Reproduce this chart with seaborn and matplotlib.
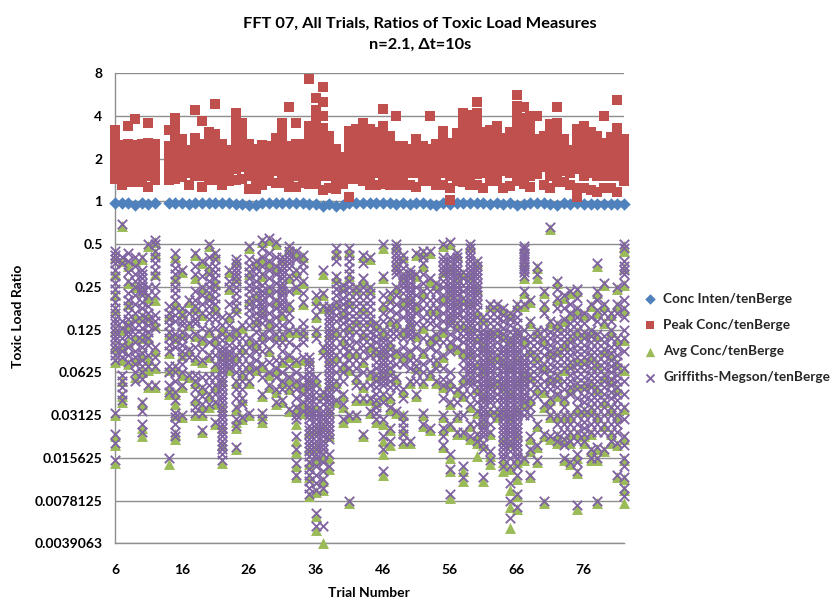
import matplotlib
matplotlib.use("Agg")
import matplotlib.pyplot as plt
import pandas as pd
import seaborn as sns

trials = [6, 7, 8, 9, 10, 11, 12] + list(range(14, 83))
tick_values = [6, 16, 26, 36, 46, 56, 66, 76]
y_ticks = [8, 4, 2, 1, 0.5, 0.25, 0.125, 0.0625, 0.03125, 0.015625, 0.0078125, 0.0039063]
y_labels = ["8", "4", "2", "1", "0.5", "0.25", "0.125", "0.0625", "0.03125", "0.015625", "0.0078125", "0.0039063"]

conc_inten = [.97,.97,.97,.95,.97,.96,.97,.97,.97,.97,.96,.97,.97,.97,.97,.97,.97,.96,.96,.94,.94,.97,.97,.97,.97,.97,.97,.97,.96,.96,.93,.96,.93,.95,.97,.97,.97,
              .97,.97,.97,.97,.96,.97,.96,.97,.97,.96,.94,.97,.96,.97,.97,.97,.97,.97,.96,.97,.96,.97,.94,.96,.97,.97,.97,.96,.95,.97,.96,.97,.96,.96,.96,.96,.96,.96,.96]

peak_conc = [
 [3.2,2.8,2.5,2.2,1.95,1.72,1.55,1.44],[2.48,2.2,1.95,1.72,1.5,1.3],[3.4,2.55,2.25,2.0,1.75,1.55,1.38],[3.8,2.5,2.2,1.95,1.72,1.55,1.38],
 [2.55,2.25,2.0,1.75,1.55,1.38],[3.56,2.6,2.3,2.0,1.75,1.5,1.26],[2.55,2.25,2.0,1.8,1.6,1.42],
 [3.2,2.45,2.2,1.95,1.72,1.55,1.42],[3.9,3.5,3.1,2.75,2.4,2.1,1.85,1.62,1.45],[2.77,2.45,2.2,1.95,1.72,1.48],[2.3,2.05,1.8,1.6,1.3],
 [4.4,2.8,2.5,2.2,1.95,1.7,1.5],[3.67,2.55,2.25,2.0,1.75,1.5,1.27],[3.1,2.75,2.45,2.15,1.9,1.65,1.42],[4.9,3.0,2.65,2.35,2.05,1.8,1.58,1.42],
 [2.55,2.25,2.0,1.75,1.5,1.3],[2.3,2.05,1.8,1.6,1.4],[4.2,3.6,3.2,2.8,2.5,2.2,1.95,1.7,1.42],[3.6,3.05,2.6,2.3,2.0,1.75,1.45],[2.55,2.25,2.0,1.75,1.5,1.22],
 [2.35,2.1,1.85,1.65,1.45,1.22],[2.5,2.25,2.0,1.75,1.5,1.3],[2.45,2.2,1.95,1.72,1.5,1.4],[2.8,2.45,2.15,1.9,1.65,1.36],[3.55,3.1,2.7,2.35,2.05,1.8,1.55,1.35],
 [4.6,2.45,2.15,1.9,1.65,1.45,1.27],[3.56,2.55,2.25,2.0,1.75,1.5,1.27],[2.55,2.25,2.0,1.75,1.5,1.35],[7.3,3.4,3.0,2.65,2.3,2.0,1.75,1.5,1.33],
 [5.4,4.4,3.8,3.3,2.9,2.55,2.25,2.0,1.75,1.5,1.32],[6.4,5.0,4.0,3.3,2.9,2.55,2.25,2.0,1.75,1.5,1.2],[2.9,2.55,2.25,2.0,1.75,1.5,1.25],[2.35,2.1,1.85,1.6,1.4,1.22],[2.05,1.85,1.65,1.48,1.33],
 [3.15,2.75,2.4,2.1,1.85,1.6,1.08,1.44],[3.25,2.85,2.5,2.2,1.95,1.7,1.44],[3.6,3.1,2.7,2.35,2.05,1.8,1.55,1.4],[3.25,2.8,2.45,2.15,1.9,1.65,1.45,1.3],
 [3.1,2.75,2.4,2.1,1.85,1.6,1.3],[4.5,3.4,2.95,2.6,2.25,2.0,1.75,1.5,1.33],[2.9,2.55,2.25,2.0,1.75,1.5,1.3],[4.0,2.45,2.15,1.9,1.65,1.45,1.3],
 [2.45,2.15,1.9,1.65,1.45,1.3],[2.35,2.1,1.85,1.6,1.3],[2.75,2.4,2.1,1.85,1.6,1.26],[2.45,2.15,1.9,1.65,1.4],[4.0,2.35,2.1,1.85,1.6,1.4],
 [2.55,2.25,2.0,1.75,1.5,1.3],[3.15,2.75,2.4,2.1,1.85,1.6,1.3],[2.6,2.25,2.0,1.75,1.5,1.03,1.24],[3.05,2.7,2.35,2.05,1.8,1.55,1.4],[4.2,3.6,3.1,2.7,2.35,2.05,1.8,1.55,1.38],
 [4.1,3.5,3.0,2.65,2.3,2.0,1.75,1.5,1.3],[5.0,4.2,3.6,3.1,2.7,2.35,2.05,1.8,1.55,1.3],[3.1,2.75,2.4,2.1,1.85,1.6,1.25],[3.2,2.8,2.45,2.15,1.9,1.65,1.4],
 [3.4,2.95,2.6,2.25,2.0,1.75,1.5,1.4],[2.8,2.45,2.15,1.9,1.65,1.24],[3.1,2.75,2.4,2.1,1.85,1.6,1.28],[5.6,4.7,4.0,3.4,2.95,2.6,2.25,2.0,1.75,1.5,1.4],
 [4.6,3.9,3.4,2.95,2.6,2.25,2.0,1.75,1.5,1.33],[4.0,3.4,2.95,2.6,2.25,2.0,1.75,1.5,1.26],[4.0,2.75,2.4,2.1,1.85,1.6,1.55],[2.9,2.55,2.25,2.0,1.75,1.3],
 [3.5,3.05,2.65,2.3,2.0,1.75,1.5,1.24],[4.6,3.6,3.1,2.7,2.35,2.05,1.8,1.55,1.38],[2.77,2.45,2.15,1.9,1.65,1.38],[2.3,2.05,1.8,1.6,1.3],[3.25,2.85,2.5,2.2,1.95,1.7,1.08,1.25],
 [3.4,2.95,2.6,2.25,2.0,1.75,1.5,1.24],[3.1,2.75,2.4,2.1,1.85,1.6,1.2],[2.9,2.55,2.25,2.0,1.75,1.5,1.17],[4.0,2.6,2.3,2.0,1.75,1.5,1.24],[2.85,2.5,2.2,1.95,1.7,1.5,1.24],
 [5.2,3.3,2.9,2.55,2.25,2.0,1.75,1.5,1.17],[2.77,2.45,2.15,1.9,1.65,1.4],
]

griffiths = [
 [1.15,1.25,1.35,1.45,1.6,1.75,1.9,2.05,2.2,2.35,2.5,2.62,2.75,2.85,2.95,3.05,3.15,3.25,3.35,3.45,3.6,3.7,4.95,5.45,5.65,6.05],
 [.52,1.3,1.45,2.8,2.95,3.2,3.35,3.5,3.65,4.05,4.2,4.35,4.5,4.65],
 [1.2,1.4,1.65,1.85,2.15,2.3,2.45,2.6,2.75,2.9,3.05,3.15,3.4,3.6,3.75],
 [1.3,1.5,1.7,1.85,2,2.2,2.4,2.6,2.8,2.95,3.1,3.3,3.5,3.65,3.8,4,4.2],
 [1.3,1.6,1.7,1.8,1.9,2,2.1,2.2,2.35,2.5,2.65,2.8,2.95,3.1,3.25,3.4,3.55,3.7,3.85,4,4.15,4.7,4.9,5.2,5.4],
 [1,2,2.2,2.45,2.6,2.75,2.9,3.05,3.2,3.35,3.6,3.85,4.3],
 [.9,1,1.15,1.3,1.45,1.6,1.75,2,2.2,2.65,2.8,2.95,3.4,3.65,3.85,4.3],
 [2.45,2.6,2.75,2.9,3.05,3.2,3.35,3.5,3.85,4,4.3,4.45,6],
 [1.2,1.4,1.55,1.7,1.85,2,2.15,2.3,2.5,2.65,2.8,3.1,3.25,3.4,3.85,4,4.2,4.45,4.65,4.95,5.05,5.2,5.4,5.5],
 [1.6,2.5,2.65,2.8,2.9,3.05,3.2,3.35,3.5,3.65,3.8,4,4.3,5],
 [2.3,2.6,2.85,3.15,3.45,3.65,4.05],
 [1.2,1.5,1.7,2.1,2.3,2.45,2.6,2.75,2.85,3.1,3.4,3.65,4.05,4.2,4.4,4.6,4.8,4.95],
 [1.4,1.75,2,2.2,2.4,2.6,2.95,3.2,3.45,3.7,4.1,4.35,4.55,4.75,4.95,5.35],
 [1,1.3,1.5,1.7,1.85,2,2.15,2.3,2.45,2.6,2.75,3,3.3,3.6,4.1,4.3,4.5,4.75],
 [1.2,1.35,1.5,1.65,1.8,1.95,2.1,2.25,2.4,2.6,2.75,2.95,3.2,3.4,3.6,3.8,4.1,4.3,4.5,4.7,5.15],
 [2.7,2.9,3.1,3.25,3.4,3.5,3.6,3.7,3.8,3.9,4,4.1,4.2,4.3,4.4,4.5,4.6,4.7,4.8,4.9,5,5.1,5.2,5.3,5.4,5.5,5.6,5.7,5.8,5.9,6.05],
 [1.6,1.85,2,2.4,2.65,2.9,3.1,3.35,3.5,3.6,3.7,3.8,3.9],
 [1.35,1.45,1.55,1.65,1.75,1.85,2,2.15,2.3,2.45,2.6,3,3.2,3.4,3.6,3.8,4,4.2,4.4,4.6,4.8,5.1,5.25,5.75],
 [2.9,3.2,3.4,3.6,3.8,4,4.2,4.4,4.6,4.75,5.05],
 [1.05,1.35,1.5,1.65,1.8,1.95,2.1,2.25,2.4,2.55,2.7,2.9,3.2,3.4,3.6,3.8,4,4.2,4.95],
 [1.4,1.55,1.7,1.85,2,2.15,2.3,2.45,2.6,2.75,2.9,3.05,3.3,3.5,3.7,3.9],
 [.9,1.1,1.3,1.5,1.7,1.95,2.1,2.2,2.3,2.4,2.5,2.6,2.7,2.85,3.1,3.3,3.5,3.8,4.1,4.5,4.95,5.1],
 [.85,1.2,1.4,1.6,1.8,2,2.2,2.4,2.6,2.8,3,3.2,3.45,3.75,4,4.3],
 [.95,1.3,1.5,1.7,1.9,2.1,2.3,2.5,2.7,2.9,3.1,3.3,3.7,3.9,4.1,4.4,4.7],
 [1.3,1.4,1.5,1.6,1.7,1.8,1.9,2,2.1,2.2,2.3,2.4,2.5,2.6,2.9,3.1,3.3,3.5,3.7,4,4.2,4.4,4.65],
 [1.05,1.15,1.25,1.35,1.45,1.55,1.75,2.1,2.4,2.6,2.8,3,3.3,3.6,3.85,4.1,4.35,4.85],
 [1.15,1.35,1.6,1.8,2,3,3.4,3.7,4,4.2,4.4,4.6,4.8,5,5.1,5.5,5.8,6.13,6.4],
 [1.25,1.45,1.6,1.85,2.15,2.35,2.85,3,3.15,3.3,3.65,4.1,4.3,4.5,4.7,4.9],
 [3.65,3.75,3.85,4,4.1,4.2,4.3,4.4,4.5,4.6,4.7,4.8,4.9,5,5.1,5.25,5.35,5.45,5.55,5.65,5.75,5.85,5.95,6.1,6.25,6.4,6.55,6.7,6.85],
 [2.2,2.45,2.65,3,3.2,4.1,4.3,4.45,4.6,4.75,4.9,5,5.1,5.2,5.3,5.4,5.5,5.6,5.7,5.8,5.9,6,6.2,6.4,6.6,6.75,7.3,7.6],
 [1.6,2.15,2.45,3.4,3.6,4.45,4.6,4.75,4.9,5,5.1,5.2,5.3,5.4,5.5,5.6,5.7,5.8,5.9,6.1,6.3,6.5,6.7,7.6],
 [2.45,2.55,2.65,2.75,2.85,2.95,3.05,3.15,3.25,3.35,3.45,3.55,3.65,3.75,3.85,3.95,4.05,4.15,4.25,4.35,4.45,4.55,4.65,4.75,4.85,4.95,5.05,5.15,5.25,5.35,5.45,5.55,5.9,6.2],
 [1.1,1.25,1.4,1.75,1.9,2.05,2.2,2.35,2.5,2.65,2.8,3,3.2,3.4,3.6,3.8,4,4.2,4.4,4.65],
 [1.95,2.1,2.25,2.4,2.55,2.7,2.85,3,3.2,3.4,3.6,3.8,4,4.2,4.5,4.75,5.1],
 [1.1,1.25,1.4,1.55,1.7,1.85,2,2.15,2.3,2.45,2.6,2.75,2.9,3.05,3.2,3.35,3.5,3.7,3.9,5,7],
 [2,2.15,2.3,2.45,2.6,2.75,2.9,3.05,3.3,3.5,3.7,3.9,4.1,4.3,4.6,5],
 [1.25,1.45,1.8,2,2.15,2.3,2.45,2.6,2.75,2.9,3.05,3.2,3.35,3.5,3.7,4,4.3,4.6,5.45],
 [1.3,2,2.15,2.3,2.45,2.6,2.75,2.9,3.05,3.2,3.35,3.6,4,4.3,4.6,4.9],
 [2.85,3,3.15,3.3,3.45,3.6,3.75,3.9,4.05,4.2,4.35,4.5,4.65,4.8,4.95,5.1],
 [1,1.75,2.2,2.4,2.6,2.8,3,3.2,3.3,3.4,3.5,3.6,3.7,3.8,3.9,4,4.1,4.2,4.3,4.5,4.7,5.1,5.5,5.8,6.3],
 [2.15,2.35,2.55,2.75,3,3.15,3.3,3.45,3.6,3.75,3.9,4.05,4.2,4.35,4.55,4.8,5.3,5.6],
 [1,1.1,1.2,1.3,1.4,1.5,1.6,1.7,2,2.2,2.4,2.6,2.8,3,3.15,3.5,3.8,4.1,4.35,4.9],
 [1.25,1.4,1.55,1.7,1.8,1.9,2,2.15,2.3,2.5,2.7,3,3.2,3.4,3.6,3.8,4.4,4.6,5,5.15,5.3,5.45,5.6],
 [1.6,1.7,1.8,1.9,2,2.1,2.2,2.3,2.4,2.5,2.6,2.7,2.8,2.9,3,3.1,3.2,3.5,3.7,3.9,4.2,5.6],
 [1.2,1.7,2,2.2,2.4,2.6,2.85,3.1,3.4,3.7,3.85,4,4.2,4.5],
 [1.15,1.3,1.45,1.7,1.9,2.1,2.3,2.5,2.7,2.9,3.2,3.5,3.8,4,4.2,4.95,5.2],
 [1.15,1.8,2.1,2.3,2.5,2.7,2.85,3.2,3.4,3.7,4,5.3],
 [1.9,2.1,2.3,2.5,2.7,2.9,3.1,3.3,3.5,3.7,3.9,4.2],
 [1,1.3,1.4,1.5,1.6,1.7,1.85,2,2.2,2.4,2.6,2.8,3,3.3,3.6,3.9,4.15,4.3,4.6,5,5.3,5.5,5.7],
 [.95,1.3,1.4,1.5,1.6,1.7,1.8,1.9,2,2.1,2.2,2.3,2.4,2.5,2.6,2.7,2.8,2.9,3.1,3.3,3.5,4,4.2,4.4,4.7,5.2,5.9,6.25,6.85],
 [1.2,1.3,1.4,1.5,1.6,1.7,1.8,1.9,2,2.1,2.2,2.3,2.4,2.5,2.6,2.7,2.85,3,3.2,3.4,4.4,4.7,5,5.4],
 [1.65,1.8,1.95,2.1,2.25,2.4,2.55,2.7,2.85,3,3.15,3.3,3.5,3.7,3.9,4.1,4.3,4.5,5,5.4,6.2,6.45],
 [1,1.1,1.2,1.3,1.4,1.5,1.6,1.7,1.8,1.9,2,2.1,2.2,2.3,2.4,2.5,2.6,2.7,2.8,2.9,3,3.1,3.2,3.3,3.4,3.5,3.6,3.7,3.8,3.9,4,4.1,4.2,4.3,4.5,4.75,5.2,5.5],
 [1.4,1.5,1.6,1.7,1.8,1.9,2,2.1,2.2,2.3,2.4,2.55,2.7,2.85,3,3.15,3.3,3.45,3.6,3.75,3.9,4.05,4.2,4.35,4.5,4.7,4.9,5.2,5.45,5.6],
 [2.7,2.85,3,3.1,3.2,3.3,3.4,3.5,3.6,3.7,3.8,3.9,4,4.1,4.2,4.3,4.4,4.5,4.6,4.7,4.8,4.9,5,5.1,5.2,5.3,5.4,5.5,5.65,5.8,6.45],
 [2.4,2.55,2.7,2.85,3,3.1,3.2,3.3,3.4,3.5,3.6,3.7,3.8,3.9,4,4.1,4.2,4.3,4.4,4.5,4.6,4.7,4.85,5,5.2,5.4,5.85,6.05],
 [2.4,2.55,2.7,2.85,3,3.15,3.3,3.45,3.6,3.75,3.9,4.05,4.2,4.35,4.5,4.65,4.85,5],
 [2.5,2.65,2.8,2.95,3.1,3.25,3.4,3.5,3.6,3.7,3.8,3.9,4,4.1,4.2,4.3,4.4,4.5,4.6,4.7,4.8,4.9,5,5.1,5.2,5.3,5.4,5.5,5.6,5.7,5.8,5.9,6,6.2],
 [2.6,2.75,2.9,3.05,3.2,3.3,3.4,3.5,3.6,3.7,3.8,3.9,4,4.1,4.2,4.3,4.4,4.5,4.6,4.7,4.8,4.9,5,5.1,5.2,5.3,5.4,5.5,5.6,5.7,5.85,6,6.2,6.6,7,7.4],
 [2.4,2.55,2.7,2.85,3,3.1,3.2,3.3,3.4,3.5,3.6,3.7,3.8,3.9,4,4.1,4.2,4.3,4.4,4.5,4.6,4.7,4.8,4.9,5,5.1,5.2,5.3,5.4,5.5,5.6,5.7,5.8,5.9,6,6.2,6.4,6.85,7.15],
 [1.05,1.12,1.2,1.27,1.35,1.42,1.5,1.57,1.65,1.75,2.1,2.4,3,3.2,3.4,3.6,3.7,3.8,3.9,4,4.1,4.2,4.3,4.4,4.5,4.6,4.7,4.85,5,6],
 [2.3,2.8,3.15,3.3,3.45,3.6,3.75,3.9,4.05,4.2,4.4,4.6,4.8,5,5.5,5.8,6.4],
 [1.5,1.7,3,3.15,3.3,3.45,3.6,3.75,3.9,4.05,4.2,4.35,4.55,5.2,5.7,6.05],
 [2.1,2.4,2.6,3,3.2,3.4,3.6,3.8,4,4.2,4.4,4.75,5.45,7],
 [.6,2.8,3.05,3.2,3.35,3.5,3.65,3.8,3.95,4.1,4.25,4.4,4.6,4.8,5,5.5],
 [1.85,2.05,2.25,2.5,2.85,3,3.15,3.3,3.45,3.6,3.75,3.9,4.05,4.2,4.35,4.5,5,5.2,5.45,5.6],
 [2.2,2.5,2.75,3,3.15,3.3,3.45,3.6,3.75,3.9,4.2,4.4,4.6,4.8,5,5.2,5.4,5.55,5.7,6],
 [2.1,2.4,2.6,2.85,3,3.15,3.3,3.45,3.6,3.75,3.9,4.05,4.2,4.35,4.5,5,5.2,5.4,5.6,6.1],
 [2.05,2.25,2.5,2.7,2.85,3,3.2,3.35,3.5,3.65,3.8,3.95,4.1,4.25,4.4,4.6,4.8,5,5.2,5.4,5.6,5.9,6.1,6.3,7.1],
 [2.6,2.85,3.05,3.2,3.35,3.5,3.65,3.8,3.95,4.1,4.25,4.4,4.55,4.7,4.85,5,5.15,5.3,5.45,5.6],
 [2.4,2.7,3,3.15,3.3,3.45,3.6,3.75,3.9,4.05,4.2,4.35,4.5,4.65,4.8,5,5.2,5.4,5.8,6],
 [1.45,2.1,2.3,2.55,2.8,3.1,3.3,3.45,3.6,3.75,3.9,4.05,4.2,4.35,4.5,4.65,4.8,5,5.2,5.4,5.75,6,7],
 [1.9,2.4,2.6,2.8,3.15,3.3,3.45,3.6,3.75,3.9,4.05,4.2,4.35,4.5,4.65,4.8,5,5.2,5.4,5.8],
 [2.6,2.8,3,3.2,3.4,3.55,3.7,3.85,4,4.15,4.3,4.45,4.6,4.8,5,5.2,5.4,5.6],
 [2,2.4,2.6,3.2,3.4,3.6,3.75,3.9,4.05,4.2,4.35,4.5,4.65,4.8,5,5.2,5.4,5.65,6.4],
 [1,1.1,1.4,1.5,1.6,1.7,1.9,2.3,2.5,2.7,3,3.2,3.5,3.9,4.2,4.5,4.8,5.1,5.5,5.7,6,6.2,6.45,6.7,6.9],
]

avg_conc = [
 [1.3,1.7,2.2,2.55,3,3.4,3.75,5,5.5,5.7,6.12],[.57,1.4,3,3.4,3.7,4.2,4.55,4.7],[1.5,1.9,2.4,2.9,3.3,3.8],[1.4,2,2.7,3.2,3.7,4.1],[1.35,2.1,2.7,3.2,3.6,4,4.75,5.3,5.5],
 [1.05,2.25,2.7,3.2,3.7,3.95,4.35],[.95,1.2,1.7,2.3,2.9,3.5,3.9,4.35],[2.65,3.1,3.55,3.95,4.4,4.5,6.15],[1.3,1.8,2.4,3.2,3.9,4.5,4.75,5,5.45,5.55],[1.65,2.6,3.1,3.6,4.05,4.35,5.05],
 [2.35,2.9,3.5,4.1],[1.25,1.8,2.5,3.15,3.7,4.25,4.65,5],[1.45,2.05,2.65,3.25,3.75,4.4,4.8,5,5.4],[1.05,1.6,2.2,3.05,3.65,4.55,4.8],[1.25,1.9,2.5,3.25,3.85,4.35,4.75,5.2],
 [3,3.6,4.2,4.8,5.3,5.7,6.12],[1.65,2.05,2.7,3.15,3.6,3.95],[1.4,1.8,2.5,3.05,3.65,4.25,4.85,5.15,5.3,5.8],[2.95,3.45,4.05,4.65,5.1],[1.1,1.7,2.3,3.25,3.85,4.25,5],
 [1.45,2.2,2.8,3.35,3.95],[.95,1.35,1.75,2.55,3.15,3.85,4.55,5,5.15],[.9,1.45,2.05,2.85,3.5,4.05,4.35],[1,1.55,2.35,3.15,3.95,4.45,4.75],[1.35,2.05,2.65,3.15,3.75,4.25,4.7],
 [1.1,1.8,2.45,3.05,3.65,4.15,4.4,4.9],[1.2,1.65,2.05,3.05,3.75,4.25,4.85,5.2,5.6,5.87,6.2,6.45],[1.3,1.9,2.4,3.05,3.7,4.35,4.75,4.95],[3.7,4.25,4.85,5.4,5.8,6.15,6.45,6.9],
 [2.3,2.7,3.05,4.2,4.8,5.35,5.75,6.05,6.8,7.35,7.7],[1.7,2.2,2.5,3.45,4.5,5.25,5.95,6.55,6.75,8],[2.5,3.1,3.7,4.3,4.9,5.5,6,6.25],[1.2,1.8,2.4,3.05,3.65,4.25,4.7],[2,2.6,3.25,3.85,4.55,4.8,5.15],
 [1.15,1.75,2.35,2.95,3.55,3.95,5.05,7.05],[2.05,2.8,3.55,4.15,4.65,5.05],[1.3,1.85,2.5,3.1,3.75,4.35,4.65,5.5],[1.35,2.05,2.8,3.4,4.05,4.65,4.95],
 [2.9,3.5,4.1,4.7,5.15],[1.08,1.8,2.45,3.05,3.55,4.05,4.55,5.2,5.6,5.9,6.4],[2.25,2.8,3.35,3.95,4.6,4.85,5.35,5.7],[1.05,1.5,2.05,2.85,3.55,4.15,4.95],[1.3,1.75,2.35,3.05,3.65,4.45,5,5.35,5.65],
 [1.65,2.25,2.85,3.55,4.25,5.65],[1.25,1.75,2.45,3.15,3.9,4.55],[1.2,1.5,2.15,2.95,3.55,4.25,5,5.25],[1.2,1.85,2.55,3.25,4.05,5.35],[1.95,2.55,3.15,3.75,4.25],[1.05,1.65,2.25,3.05,3.65,4.35,5.05,5.35,5.75],
 [1,1.55,2.15,2.75,3.35,4.25,4.75,5.25,6,6.3,6.95],[1.25,1.75,2.35,2.9,3.45,4.45,5.05,5.45],[1.7,2.3,2.9,3.55,4.15,4.55,5.45,6.3,6.55],[1.05,1.75,2.35,2.95,3.55,4.15,4.8,5.25,5.55],[1.45,2.05,2.6,3.2,3.8,4.4,4.95,5.5,5.65,5.95],
 [2.75,3.35,3.95,4.55,5.15,5.7,6.55],[2.45,3.05,3.65,4.25,4.9,5.45,5.95,6.15],[2.45,3.05,3.65,4.25,4.9,5.05],[2.55,3.15,3.75,4.35,4.95,5.55,6.1,6.3],[2.65,3.25,3.85,4.45,5.05,5.65,6.25,6.75,7.15,7.65],
 [2.45,3.05,3.65,4.25,4.85,5.45,6.1,6.5,6.9,7.2],[1.1,1.45,1.8,2.15,2.45,3.25,4.05,4.75,6.05],[2.35,2.85,3.5,4.1,4.65,5.55,5.85,6.45],[1.55,1.8,3.05,3.65,4.4,5.25,5.75,6.1],[2.15,2.45,3.25,3.85,4.45,4.8,5.5,7.05],
 [.65,2.85,3.55,4.15,4.65,5.05,5.55],[1.9,2.3,2.9,3.5,4.1,4.55,5.05,5.5,5.65],[2.25,2.8,3.35,3.95,4.65,5.05,5.6,6.05],[2.15,2.65,3.2,3.8,4.4,5.05,5.45,5.65,6.15],[2.1,2.55,3.05,3.7,4.3,4.85,5.45,6,6.35,7.2],
 [2.65,3.1,3.7,4.3,4.9,5.5,5.65],[2.45,3.05,3.65,4.25,4.85,5.45,5.85,6.05],[1.5,2.15,2.6,3.15,3.8,4.4,5.05,5.8,6.05,7.05],[1.95,2.45,2.85,3.5,4.1,4.7,5.25,5.85],[2.65,3.05,3.6,4.2,4.85,5.45,5.65],
 [2.05,2.45,3.25,3.8,4.4,5.05,5.7,6.45],[1.05,1.15,1.55,1.95,2.55,3.25,3.95,4.85,5.55,6.05,6.5,6.75,7.05],
]


def long_table(groups, series, from_halvings):
    rows = []
    for trial, values in zip(trials, groups):
        for v in values:
            rows.append((trial, 2.0 ** (-v) if from_halvings else v, series))
    return pd.DataFrame(rows, columns=["trial", "ratio", "series"])


sns.set_theme(style="white")
plt.rcParams["font.family"] = ["Lato", "DejaVu Sans"]
plt.rcParams["font.weight"] = "bold"

fig = plt.figure(figsize=(8.34, 6.0), dpi=100)
ax = fig.add_axes([115 / 834, 1 - 543.3 / 600, (624 - 115) / 834, (543.3 - 73.3) / 600])

blue = pd.DataFrame({"trial": trials, "ratio": conc_inten})
sns.scatterplot(data=blue, x="trial", y="ratio", marker="D", color="#4F81BD", s=40, linewidth=0,
                ax=ax, label="Conc Inten/tenBerge", clip_on=False, zorder=3)
sns.scatterplot(data=long_table(peak_conc, "peak", False), x="trial", y="ratio", marker="s", color="#C0504D", s=54,
                linewidth=0, ax=ax, label="Peak Conc/tenBerge", clip_on=False, zorder=4)
sns.scatterplot(data=long_table(avg_conc, "avg", True), x="trial", y="ratio", marker="^", color="#9BBB59", s=62,
                linewidth=0, ax=ax, label="Avg Conc/tenBerge", clip_on=False, zorder=5)
sns.scatterplot(data=long_table(griffiths, "gm", True), x="trial", y="ratio", marker="x", color="#8064A2", s=46,
                linewidth=1.35, ax=ax, label="Griffiths-Megson/tenBerge", clip_on=False, zorder=6)

ax.set_yscale("log", base=2)
ax.set_xlim(6, 82)
ax.set_ylim(0.0039063, 8)
ax.set_yticks(y_ticks)
ax.set_yticklabels(y_labels, fontsize=10, fontweight="bold", color="black")
ax.minorticks_off()
ax.set_xticks(tick_values)
ax.set_xticklabels([str(t) for t in tick_values], fontsize=10, fontweight="bold", color="black")
ax.tick_params(axis="x", length=0, pad=15)
ax.tick_params(axis="y", length=0, pad=9)
ax.grid(axis="y", color="#8E8E8E", linewidth=1.0)
ax.grid(axis="x", visible=False)
ax.set_axisbelow(True)
for side in ["top", "right"]:
    ax.spines[side].set_visible(False)
for side in ["left", "bottom"]:
    ax.spines[side].set_color("#8E8E8E")
    ax.spines[side].set_linewidth(1.0)

ax.set_xlabel("")
ax.set_ylabel("")
fig.text(369 / 834, 1 - 593 / 600, "Trial Number", ha="center", va="center", fontsize=10, fontweight="bold", color="black")
fig.text(18 / 834, 1 - 316 / 600, "Toxic Load Ratio", ha="center", va="center", rotation=90, fontsize=10, fontweight="bold", color="black")
fig.text(420 / 834, 1 - 24 / 600, "FFT 07, All Trials, Ratios of Toxic Load Measures", ha="center", va="center",
         fontsize=11.8, fontweight="bold", color="black")
fig.text(420 / 834, 1 - 45 / 600, "n=2.1, Δt=10s", ha="center", va="center", fontsize=11.8, fontweight="bold", color="black")

leg = ax.legend(loc="center left", bbox_to_anchor=(636 / 834, 1 - 338 / 600), bbox_transform=fig.transFigure,
                frameon=False, fontsize=9.8, handletextpad=0.0, labelspacing=1.05, borderpad=0, borderaxespad=0,
                markerscale=0.85)

fig.savefig("out.png", dpi=100)
